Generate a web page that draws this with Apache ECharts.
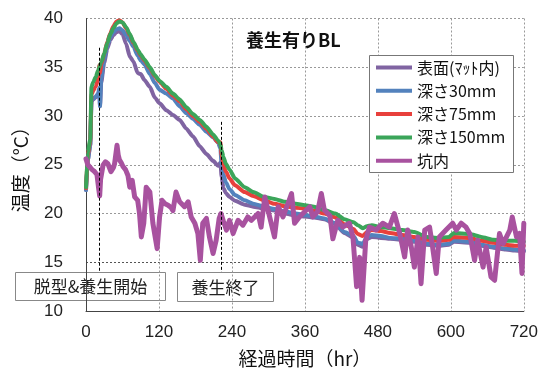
<!DOCTYPE html>
<html>
<head>
<meta charset="utf-8">
<script src="https://cdn.jsdelivr.net/npm/echarts@6/dist/echarts.min.js"></script>
<style>
  html, body { margin: 0; padding: 0; background: #fff; }
  #chart { width: 541px; height: 374px; }
</style>
</head>
<body>
<div id="chart"></div>
<script>
// Elapsed hours shared by the four concrete sensors
const hoursConcrete = [
  0, 3, 7, 9, 12, 16, 20, 22, 23, 25,
  30, 35, 40, 45, 50, 55, 60, 66, 72, 78,
  85, 90, 96, 105, 113, 121, 132, 143, 154, 165,
  176, 187, 198, 209, 217, 221, 223, 226, 230, 236,
  245, 261, 275, 293, 310, 327, 345, 360, 375, 392,
  410, 425, 440, 447, 455, 462, 470, 485, 500, 520,
  540, 560, 580, 597, 605, 631, 650, 670, 690, 705,
  720
];

// Surface (under the curing mat)
const surface = [
  22.4, 25.5, 27.0, 31.5, 31.7, 31.9, 32.2, 32.6, 31.0, 33.4,
  35.5, 36.9, 37.8, 38.3, 38.6, 38.7, 38.4, 37.4, 36.1, 35.6,
  34.4, 34.3, 33.7, 33.0, 31.9, 31.3, 30.6, 30.1, 29.6, 28.7,
  27.9, 26.9, 26.1, 25.4, 24.9, 25.2, 23.8, 22.6, 22.1, 21.7,
  21.3, 20.9, 20.7, 20.5, 20.3, 20.0, 19.8, 19.7, 19.6, 19.4,
  18.9, 18.0, 17.5, 16.8, 16.6, 17.4, 17.6, 17.5, 17.4, 17.3,
  17.1, 16.8, 16.7, 16.8, 17.1, 17.0, 16.7, 16.5, 16.3, 16.2,
  16.1
];

// 30 mm depth
const depth30 = [
  22.4, 25.5, 27.0, 31.5, 31.8, 32.0, 32.3, 32.9, 31.0, 33.8,
  35.9, 37.2, 38.1, 38.6, 38.9, 39.0, 38.8, 38.3, 37.7, 37.1,
  36.2, 35.7, 35.3, 34.3, 33.4, 32.7, 32.3, 31.8, 31.0, 30.3,
  29.7, 29.1, 28.4, 27.8, 27.3, 26.7, 25.0, 24.0, 23.2, 22.5,
  21.9, 21.35, 21.0, 20.7, 20.45, 20.2, 20.0, 19.85, 19.7, 19.5,
  19.0, 18.1, 17.7, 17.0, 16.9, 17.6, 17.8, 17.7, 17.5, 17.4,
  17.2, 16.9, 16.8, 16.9, 17.2, 17.1, 16.8, 16.6, 16.4, 16.3,
  16.2
];

// 75 mm depth
const depth75 = [
  22.6, 26.0, 27.4, 32.2, 32.6, 33.0, 33.8, 35.2, 34.4, 35.3,
  36.4, 37.6, 38.5, 39.2, 39.7, 39.8, 39.6, 39.0, 38.3, 37.5,
  36.7, 36.2, 35.7, 34.9, 34.1, 33.5, 32.8, 32.1, 31.5, 30.7,
  30.0, 29.4, 28.7, 27.9, 27.3, 27.3, 26.0, 25.0, 24.3, 23.6,
  22.9, 22.2, 21.8, 21.35, 21.0, 20.75, 20.6, 20.5, 20.3, 20.0,
  19.6, 18.9, 18.4, 17.9, 17.7, 18.1, 18.3, 18.2, 18.0, 17.8,
  17.6, 17.3, 17.2, 17.3, 17.6, 17.5, 17.2, 17.0, 16.8, 16.7,
  16.7
];

// 150 mm depth
const depth150 = [
  22.7, 26.3, 27.6, 33.0, 33.5, 34.0, 34.7, 35.0, 35.2, 35.5,
  36.4, 37.5, 38.4, 39.0, 39.5, 39.7, 39.6, 39.1, 38.4, 37.6,
  36.8, 36.3, 35.8, 35.0, 34.2, 33.6, 33.0, 32.3, 31.7, 30.9,
  30.2, 29.6, 28.9, 28.1, 27.5, 27.1, 26.5, 25.8, 25.1, 24.5,
  23.6, 22.7, 22.2, 21.7, 21.5, 21.2, 21.0, 20.85, 20.7, 20.35,
  20.0, 19.4, 19.1, 18.8, 18.5, 18.7, 18.8, 18.6, 18.5, 18.3,
  18.1, 17.6, 17.5, 17.6, 18.0, 17.9, 17.6, 17.3, 17.2, 17.2,
  17.1
];

// Air temperature inside the pit (logged on its own time steps)
const hoursPit = [
  0, 3, 6, 10, 14, 18, 21, 22.5, 24, 28,
  32, 36, 41, 45, 47, 51, 53, 55, 58, 61,
  65, 69, 72, 76, 80, 85, 88, 91, 95, 99,
  102, 105, 110, 114, 117, 121, 125, 130, 135, 140,
  143, 148, 154, 162, 168, 173, 179, 184, 188, 192,
  198, 203, 209, 214, 219, 222, 226, 231, 236, 242,
  250, 258, 266, 272, 283, 288, 294, 302, 310, 316,
  324, 332, 338, 343, 351, 360, 368, 373, 381, 387,
  392, 401, 406, 414, 422, 433, 439, 445, 450, 454,
  460, 466, 477, 488, 499, 507, 516, 524, 529, 535,
  540, 546, 551, 557, 565, 570, 576, 581, 592, 603,
  609, 617, 625, 631, 639, 644, 653, 658, 666, 672,
  680, 686, 697, 701, 708, 713, 717, 720
];
const pit = [
  25.6, 25.0, 24.8, 24.5, 24.3, 24.0, 22.5, 21.8, 23.5, 24.95,
  25.3, 25.1, 24.3, 24.7, 25.1, 27.0, 26.0, 25.5, 25.2, 24.8,
  24.5, 23.9, 22.7, 23.4, 21.7, 21.35, 20.0, 17.6, 19.0, 22.7,
  22.5, 22.2, 19.0, 17.5, 16.4, 19.65, 21.35, 21.0, 20.85, 20.6,
  20.3, 22.2, 21.2, 20.7, 21.2, 19.65, 19.0, 17.95, 15.2, 19.0,
  19.5, 17.6, 15.9, 17.25, 19.5, 20.0, 19.2, 18.3, 19.3, 17.95,
  19.3, 18.8, 19.65, 19.3, 20.0, 18.6, 21.7, 19.65, 17.6, 20.7,
  19.65, 21.0, 22.05, 19.0, 19.65, 20.2, 20.7, 19.65, 20.2, 22.05,
  20.35, 19.8, 17.4, 19.3, 18.6, 19.0, 17.6, 12.5, 15.5, 11.1,
  17.25, 18.6, 18.3, 19.0, 18.6, 20.0, 17.95, 15.55, 18.3, 16.55,
  14.5, 17.6, 12.8, 18.3, 18.6, 16.55, 13.85, 17.6, 18.3, 19.0,
  18.3, 19.0, 18.6, 17.95, 15.2, 17.25, 14.5, 16.55, 13.5, 13.15,
  17.95, 16.9, 18.3, 19.65, 17.6, 17.95, 13.85, 19.0
];

const seriesNames = ['表面(ﾏｯﾄ内)', '深さ30mm', '深さ75mm', '深さ150mm', '坑内'];
const seriesColors = ['#8064a2', '#5382bd', '#e8403c', '#3ba55a', '#a8529f'];

// Demoulding / end of curing: hour and upper end of the marker line
const eventHours = [22.5, 222];
const eventTops = [37.0, 29.4];
const eventLabels = ['脱型&養生開始', '養生終了'];

const xMin = 0, xMax = 720, xStep = 120;
const yMin = 10, yMax = 40, yStep = 5;

const pair = (hs, vs) => hs.map((h, i) => [h, vs[i]]);
const concreteValues = [surface, depth30, depth75, depth150];

const cjk = '"Noto Sans CJK JP", sans-serif';
const latin = '"Liberation Sans", Arial, "Noto Sans CJK JP", sans-serif';

const series = concreteValues.map((vals, i) => ({
  name: seriesNames[i],
  type: 'line',
  data: pair(hoursConcrete, vals),
  symbol: 'none',
  smooth: 0.2,
  smoothMonotone: 'x',
  lineStyle: { width: 4, color: seriesColors[i], cap: 'round', join: 'round' },
  itemStyle: { color: seriesColors[i] },
  z: 2 + i * 0.01
}));

series.push({
  name: seriesNames[4],
  type: 'line',
  data: pair(hoursPit, pit),
  symbol: 'none',
  lineStyle: { width: 5, color: seriesColors[4], cap: 'round', join: 'round' },
  itemStyle: { color: seriesColors[4] },
  z: 2.1,
  markLine: {
    silent: true,
    symbol: ['none', 'none'],
    label: { show: false },
    lineStyle: { color: '#000', type: [3, 2], width: 1 },
    data: eventHours.map((h, i) => [{ coord: [h, eventTops[i]] }, { coord: [h, 14.0] }])
  }
});

const chart = echarts.init(document.getElementById('chart'), null, { renderer: 'canvas' });

chart.setOption({
  animation: false,
  backgroundColor: '#fff',
  grid: { left: 86, right: 17, top: 18.5, bottom: 63, containLabel: false },
  title: {
    text: '養生有りBL',
    left: 246,
    top: 31,
    padding: 0,
    textStyle: { fontFamily: cjk, fontSize: 18, fontWeight: 'bold', color: '#111' }
  },
  legend: {
    orient: 'vertical',
    left: 376,
    top: 59.5,
    padding: 0,
    icon: 'rect',
    itemWidth: 36,
    itemHeight: 4,
    itemGap: 7.3,
    data: seriesNames,
    textStyle: { fontFamily: cjk, fontSize: 16, color: '#111', lineHeight: 16 }
  },
  xAxis: {
    type: 'value',
    min: xMin, max: xMax, interval: xStep,
    name: '経過時間（hr）',
    nameLocation: 'middle',
    nameGap: 38,
    nameTextStyle: { fontFamily: cjk, fontSize: 19, color: '#111' },
    axisLine: { show: true, lineStyle: { color: '#444', width: 1 } },
    axisTick: { show: false },
    axisLabel: { margin: 13, fontFamily: latin, fontSize: 17, color: '#222' },
    splitLine: { show: true, lineStyle: { color: '#999', type: [2, 2], width: 1 } }
  },
  yAxis: {
    type: 'value',
    min: yMin, max: yMax, interval: yStep,
    name: '温度（°C）',
    nameLocation: 'middle',
    nameGap: 56,
    nameTextStyle: { fontFamily: cjk, fontSize: 19, color: '#111' },
    axisLine: { show: true, lineStyle: { color: '#444', width: 1 } },
    axisTick: { show: false },
    axisLabel: { margin: 23, fontFamily: latin, fontSize: 17, color: '#222' },
    splitLine: { show: true, lineStyle: { color: ['#999', '#555', '#999', '#999', '#999', '#999', '#999'], type: [2, 2], width: 1 } }
  },
  graphic: [
    {
      type: 'rect', z: 3,
      shape: { x: 369.5, y: 55.5, width: 144, height: 117 },
      style: { fill: '#fff', stroke: '#777', lineWidth: 1 }
    },
    {
      type: 'group', z: 10,
      children: [
        { type: 'rect', shape: { x: 15.5, y: 272.5, width: 150, height: 28 },
          style: { fill: '#fff', stroke: '#888', lineWidth: 1 } },
        { type: 'text', x: 90.5, y: 287,
          style: { text: eventLabels[0], font: '17px ' + cjk, fill: '#222', align: 'center', verticalAlign: 'middle' } },
        { type: 'rect', shape: { x: 177.5, y: 272.5, width: 96, height: 29 },
          style: { fill: '#fff', stroke: '#888', lineWidth: 1 } },
        { type: 'text', x: 225.5, y: 287.5,
          style: { text: eventLabels[1], font: '17px ' + cjk, fill: '#222', align: 'center', verticalAlign: 'middle' } }
      ]
    }
  ],
  series: series
});
</script>
</body>
</html>
